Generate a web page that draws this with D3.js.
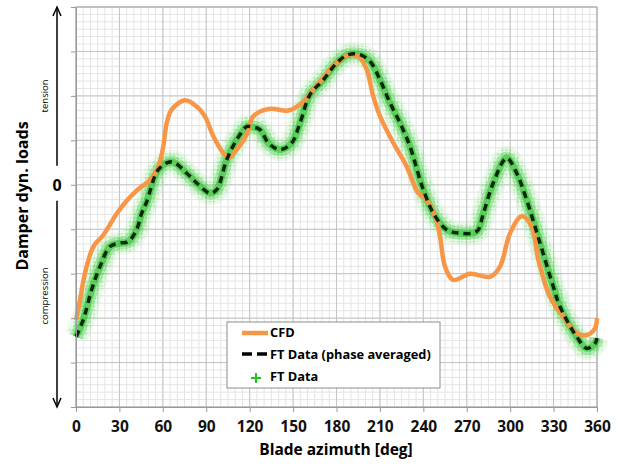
<!DOCTYPE html>
<html>

<head>
    <meta charset="UTF-8" />
    <title>damper loads</title>
    <style>
        body {
            margin: 0;
            padding: 0;
            background-color: #ffffff;
            font-family: 'Open Sans', Lato, sans-serif;
        }
    </style>
</head>

<body>
    <div class="container"></div>

    <script src="https://cdnjs.cloudflare.com/ajax/libs/d3/7.8.5/d3.min.js"></script>
    <script>
        // CFD curve (azimuth in deg, load in grid units)
        const cfdAz = [0, 2.8, 6.2, 12, 18.9, 28.1, 35, 41.9, 51.1, 56.9, 60.3, 62.7, 66.1, 75.3, 83.4, 89.1, 94.9, 101.8, 105.2, 111, 118, 122.5, 134.1, 146.7, 156, 168.6, 180.1, 189.3, 196.2, 200.9, 205.4, 210.1, 219.3, 228.5, 236.5, 242.3, 248.1, 251.5, 255, 260.7, 272.2, 286.1, 293, 299.9, 308, 314.9, 319.5, 327.5, 336.7, 346, 352.9, 358.6, 360];
        const cfdLoad = [-3.04, -2.59, -1.99, -1.39, -1.13, -0.65, -0.36, -0.13, 0.11, 0.41, 0.86, 1.39, 1.69, 1.90, 1.76, 1.54, 1.09, 0.71, 0.60, 0.79, 1.13, 1.54, 1.71, 1.67, 1.84, 2.33, 2.74, 2.93, 2.85, 2.59, 1.99, 1.54, 0.94, 0.41, -0.19, -0.34, -0.71, -1.16, -1.84, -2.14, -2.0, -2.07, -1.84, -1.09, -0.71, -0.94, -1.69, -2.52, -2.97, -3.34, -3.38, -3.23, -3.0];

        // flight test, phase averaged
        const ftAz = [0, 5, 10.8, 16.6, 23.5, 30.4, 36.1, 41.9, 45.4, 48.9, 56.9, 66.1, 76.5, 83.4, 92.6, 97.2, 104.1, 111, 118, 120.2, 127.1, 132.9, 141, 149, 154.8, 161.7, 170.9, 180.1, 188.2, 196.2, 203.1, 210.1, 217, 223.9, 230.8, 237.7, 240, 246.9, 256.1, 265.3, 276.9, 281.5, 288.3, 297.6, 304.5, 311.4, 320.6, 329.8, 334.4, 346, 352.9, 358.6, 360];
        const ftLoad = [-3.42, -3.04, -2.36, -1.84, -1.39, -1.31, -1.28, -1.01, -0.64, -0.38, 0.34, 0.52, 0.26, 0.04, -0.19, -0.11, 0.56, 1.01, 1.31, 1.31, 1.24, 0.94, 0.79, 0.94, 1.39, 2.03, 2.36, 2.74, 2.93, 2.93, 2.78, 2.36, 1.84, 1.39, 0.86, 0.11, -0.11, -0.64, -1.01, -1.09, -1.05, -0.64, 0.04, 0.60, 0.26, -0.34, -1.31, -2.29, -2.74, -3.42, -3.68, -3.57, -3.45];

        const xTicks = [0, 30, 60, 90, 120, 150, 180, 210, 240, 270, 300, 330, 360];
        const yTicks = [-5, -4, -3, -2, -1, 0, 1, 2, 3, 4];
        const legendLabels = ['CFD', 'FT Data (phase averaged)', 'FT Data'];

        const w = 618;
        const h = 464;

        const svg = d3.select('.container').append('svg')
            .attr('width', w)
            .attr('height', h)
            .style('font-family', "'Open Sans', Lato, sans-serif");

        const x = d3.scaleLinear().domain([0, 360]).range([76, 597]);
        const y = d3.scaleLinear().domain([-5, 4]).range([407, 7]);

        // little plus signs used to paint the raw FT cloud
        const defs = svg.append('defs');
        const pat = defs.append('pattern')
            .attr('id', 'plus')
            .attr('width', 4)
            .attr('height', 4)
            .attr('patternUnits', 'userSpaceOnUse');
        pat.append('path')
            .attr('d', 'M0.5,2H3.5M2,0.5V3.5')
            .attr('stroke', '#22cc22')
            .attr('stroke-width', 0.6);

        function drawGrid() {
            const g = svg.append('g');
            const minorX = d3.range(0, 361, 5);
            const minorY = d3.range(-5, 4.001, 1 / 6);

            g.selectAll('.mx').data(minorX).enter().append('line')
                .attr('x1', d => x(d)).attr('x2', d => x(d))
                .attr('y1', y(-5)).attr('y2', y(4))
                .attr('stroke', '#e4e4e4').attr('stroke-width', 1);
            g.selectAll('.my').data(minorY).enter().append('line')
                .attr('x1', x(0)).attr('x2', x(360))
                .attr('y1', d => y(d)).attr('y2', d => y(d))
                .attr('stroke', '#e4e4e4').attr('stroke-width', 1);

            g.selectAll('.Mx').data(xTicks).enter().append('line')
                .attr('x1', d => x(d)).attr('x2', d => x(d))
                .attr('y1', y(-5)).attr('y2', y(4))
                .attr('stroke', '#c4c4c4').attr('stroke-width', 1);
            g.selectAll('.My').data(yTicks).enter().append('line')
                .attr('x1', x(0)).attr('x2', x(360))
                .attr('y1', d => y(d)).attr('y2', d => y(d))
                .attr('stroke', '#c4c4c4').attr('stroke-width', 1);

            // frame
            g.append('rect')
                .attr('x', x(0)).attr('y', y(4))
                .attr('width', x(360) - x(0)).attr('height', y(-5) - y(4))
                .attr('fill', 'none').attr('stroke', '#a8a8a8');
        }

        function drawAxes() {
            const xAxis = svg.append('g')
                .attr('transform', `translate(0,${y(-5)})`)
                .call(d3.axisBottom(x).tickValues(xTicks).tickSize(5).tickPadding(9).tickSizeOuter(0));
            xAxis.select('.domain').attr('stroke', '#999');
            xAxis.selectAll('.tick line').attr('stroke', '#999');
            xAxis.selectAll('.tick text')
                .attr('font-family', "'Open Sans', sans-serif")
                .attr('font-weight', 'bold')
                .attr('font-size', 15.5)
                .attr('fill', '#111');

            svg.append('text')
                .attr('x', 336).attr('y', 455)
                .attr('text-anchor', 'middle')
                .attr('font-weight', 'bold')
                .attr('font-size', 15.5)
                .text('Blade azimuth [deg]');

            const yAxis = svg.append('g')
                .attr('transform', `translate(${x(0)},0)`)
                .call(d3.axisLeft(y).tickValues(yTicks).tickSize(5).tickFormat('').tickSizeOuter(0));
            yAxis.select('.domain').attr('stroke', '#999');
            yAxis.selectAll('.tick line').attr('stroke', '#999');

            // side arrows: tension up, compression down
            const ax = 57;
            svg.append('line')
                .attr('x1', ax).attr('x2', ax).attr('y1', y(4) + 2).attr('y2', y(0) - 19)
                .attr('stroke', '#000').attr('stroke-width', 1.5);
            svg.append('path')
                .attr('d', `M${ax - 4},${y(4) + 9}L${ax},${y(4)}L${ax + 4},${y(4) + 9}`)
                .attr('fill', 'none').attr('stroke', '#000').attr('stroke-width', 1.5);
            svg.append('line')
                .attr('x1', ax).attr('x2', ax).attr('y1', y(0) + 16).attr('y2', y(-5) - 2)
                .attr('stroke', '#000').attr('stroke-width', 1.5);
            svg.append('path')
                .attr('d', `M${ax - 4},${y(-5) - 9}L${ax},${y(-5)}L${ax + 4},${y(-5) - 9}`)
                .attr('fill', 'none').attr('stroke', '#000').attr('stroke-width', 1.5);

            svg.append('text')
                .attr('x', ax).attr('y', y(0) + 6)
                .attr('text-anchor', 'middle')
                .attr('font-weight', 'bold')
                .attr('font-size', 16)
                .text('0');

            svg.append('text')
                .attr('transform', `translate(48,${y(2)}) rotate(-90)`)
                .attr('text-anchor', 'middle')
                .attr('font-size', 9.5)
                .text('tension');
            svg.append('text')
                .attr('transform', `translate(48,${y(-2.5)}) rotate(-90)`)
                .attr('text-anchor', 'middle')
                .attr('font-size', 9.5)
                .text('compression');

            svg.append('text')
                .attr('transform', `translate(28,196) rotate(-90)`)
                .attr('text-anchor', 'middle')
                .attr('font-weight', 'bold')
                .attr('font-size', 16)
                .text('Damper dyn. loads');
        }

        function drawSeries() {
            const line = d3.line()
                .x(d => x(d[0]))
                .y(d => y(d[1]))
                .curve(d3.curveCatmullRom.alpha(0.5));

            const ft = d3.zip(ftAz, ftLoad);
            const cfd = d3.zip(cfdAz, cfdLoad);

            const plot = svg.append('g');

            // raw FT cloud around the phase average
            plot.append('path').attr('d', line(ft))
                .attr('fill', 'none').attr('stroke', '#8ee88e')
                .attr('stroke-width', 24).attr('stroke-opacity', 0.16)
                .attr('stroke-linejoin', 'round');
            plot.append('path').attr('d', line(ft))
                .attr('fill', 'none').attr('stroke', 'url(#plus)')
                .attr('stroke-width', 19).attr('stroke-opacity', 0.45)
                .attr('stroke-linejoin', 'round');
            plot.append('path').attr('d', line(ft))
                .attr('fill', 'none').attr('stroke', '#3ccc3c')
                .attr('stroke-width', 13).attr('stroke-opacity', 0.35)
                .attr('stroke-linejoin', 'round');
            plot.append('path').attr('d', line(ft))
                .attr('fill', 'none').attr('stroke', '#18b818')
                .attr('stroke-width', 7).attr('stroke-opacity', 0.5)
                .attr('stroke-linejoin', 'round');

            plot.append('path').attr('d', line(cfd))
                .attr('fill', 'none').attr('stroke', '#f79646')
                .attr('stroke-width', 4.5)
                .attr('stroke-linejoin', 'round');

            plot.append('path').attr('d', line(ft))
                .attr('fill', 'none').attr('stroke', '#062806')
                .attr('stroke-width', 3.5)
                .attr('stroke-dasharray', '7,5');
        }

        function drawLegend() {
            const g = svg.append('g').attr('transform', 'translate(227,322)');
            g.append('rect')
                .attr('width', 213).attr('height', 66)
                .attr('fill', '#fff').attr('stroke', '#8c8c8c');

            g.append('line')
                .attr('x1', 15).attr('x2', 41).attr('y1', 11).attr('y2', 11)
                .attr('stroke', '#f79646').attr('stroke-width', 4.5);
            g.append('line')
                .attr('x1', 15).attr('x2', 43).attr('y1', 32).attr('y2', 32)
                .attr('stroke', '#000').attr('stroke-width', 3.5)
                .attr('stroke-dasharray', '10,5');
            g.append('path')
                .attr('d', 'M24,56H34M29,51V61')
                .attr('stroke', '#1fc41f').attr('stroke-width', 2);

            g.selectAll('.lt').data(legendLabels).enter().append('text')
                .attr('x', 43)
                .attr('y', (d, i) => 15 + i * 22)
                .attr('font-weight', 'bold')
                .attr('font-size', 12.8)
                .text(d => d);
        }

        drawGrid();
        drawSeries();
        drawAxes();
        drawLegend();
    </script>
</body>

</html>
